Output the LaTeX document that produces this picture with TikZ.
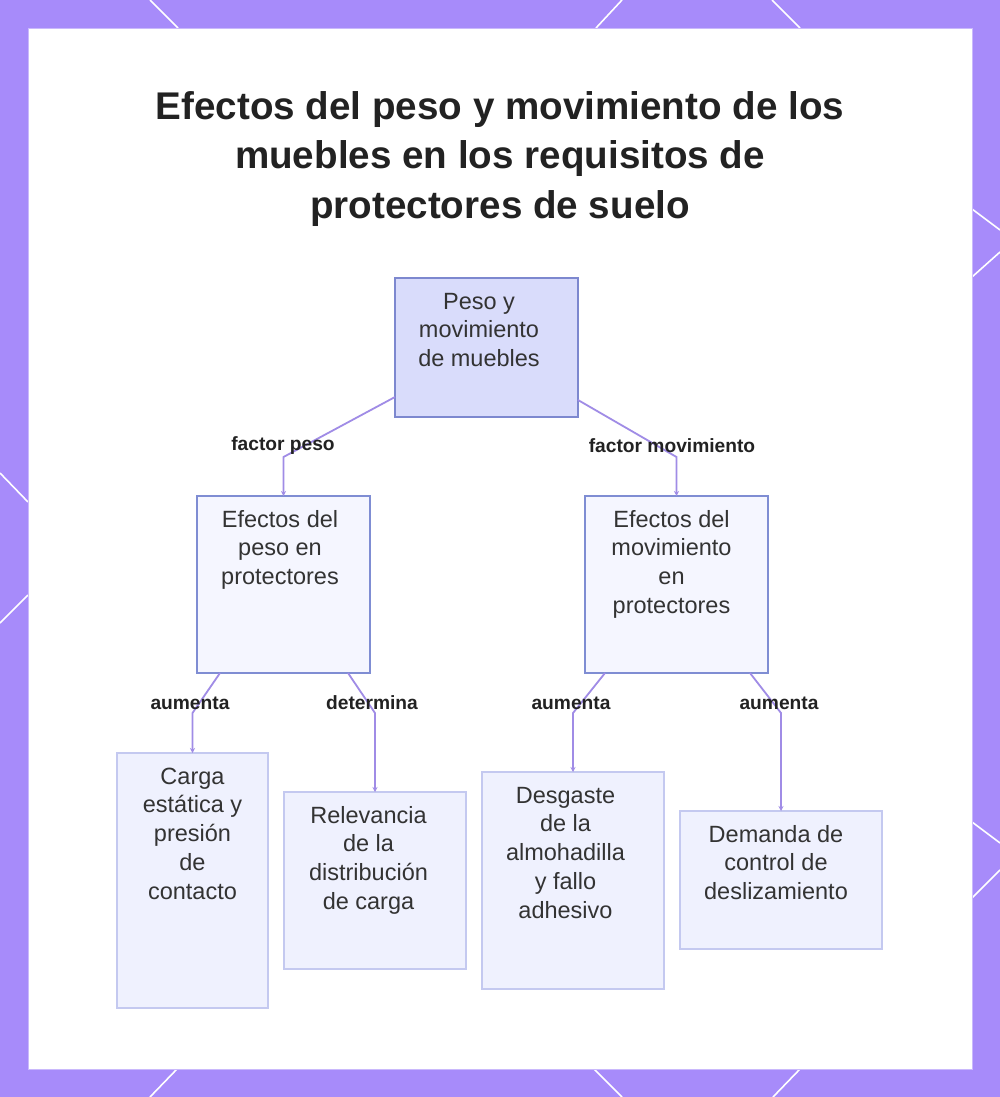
\documentclass[tikz,border=0pt]{standalone}
\usepackage{fontspec}
\setmainfont{Liberation Sans}
\usetikzlibrary{calc,arrows.meta}
\definecolor{framecol}{HTML}{A78BFA}
\definecolor{edgecol}{HTML}{A08CE6}
\definecolor{topfill}{HTML}{D9DCFB}
\definecolor{topdraw}{HTML}{7D88CF}
\definecolor{midfill}{HTML}{F5F6FF}
\definecolor{middraw}{HTML}{7F8DD3}
\definecolor{lowfill}{HTML}{EFF1FE}
\definecolor{lowdraw}{HTML}{C4C9F0}
\definecolor{txt}{HTML}{333333}
\definecolor{ttl}{HTML}{222222}
\newcommand\boxcontent[4][0]{\parbox[t][#3pt][t]{#2pt}{\centering\rightskip=#1pt plus 1fil\vspace*{11pt}\fontsize{23.5}{28.75}\selectfont\color{txt}\strut #4}}
\tikzset{
  topbox/.style={draw=topdraw, fill=topfill, line width=1.6pt, inner sep=0pt, outer sep=0pt},
  midbox/.style={draw=middraw, fill=midfill, line width=1.6pt, inner sep=0pt, outer sep=0pt},
  lowbox/.style={draw=lowdraw, fill=lowfill, line width=1.8pt, inner sep=0pt, outer sep=0pt},
  edge/.style={draw=edgecol, line width=1.8pt, -{Stealth[length=5pt,width=5pt]}},
  elabel/.style={font=\bfseries\fontsize{19.2}{22}\selectfont, text=ttl, inner sep=0pt},
  deco/.style={draw=white, line width=1.6pt}
}
\begin{document}
\begin{tikzpicture}[x=1pt,y=-1pt]
\useasboundingbox (0,0) rectangle (1000,1097);
\fill[framecol] (0,0) rectangle (1000,1097);
% decorative white lines on the frame
\draw[deco] (150,0) -- (178,28);
\draw[deco] (622,0) -- (596,28);
\draw[deco] (772,0) -- (800,28);
\draw[deco] (177,1069) -- (150,1097);
\draw[deco] (594,1069) -- (622,1097);
\draw[deco] (800,1069) -- (773,1097);
\draw[deco] (0,473) -- (28,502);
\draw[deco] (28,595) -- (0,623);
\draw[deco] (972,209) -- (1000,230);
\draw[deco] (1000,252) -- (972,277);
\draw[deco] (972,822) -- (1000,843);
\draw[deco] (1000,870) -- (972,898);
% inner panel
\fill[white] (28,28) rectangle (972,1069);
\draw[draw=framecol!60!white, line width=0.8pt] (28,28) rectangle (972,1069);

% title
\node[font=\bfseries\fontsize{38.6}{49.5}\selectfont, text=ttl, align=center, inner sep=0pt] (title) at (500,159)
  {Efectos del peso y movimiento de los\\muebles en los requisitos de\\protectores de suelo};

% nodes
\node[topbox] (top) at (486.5,347.5) {\boxcontent[15]{183}{139}{Peso y\\movimiento\\de muebles}};
\node[midbox] (peso) at (283.5,584.5) {\boxcontent[7]{173}{177}{Efectos del\\peso en\\protectores}};
\node[midbox] (mov) at (676.5,584.5) {\boxcontent[10]{183}{177}{Efectos del\\movimiento\\en\\protectores}};
\node[lowbox] (carga) at (192.5,880.5) {\boxcontent{151}{255}{Carga\\estática y\\presión\\de\\contacto}};
\node[lowbox] (relev) at (375,880.5) {\boxcontent[13]{182}{177}{Relevancia\\de la\\distribución\\de carga}};
\node[lowbox] (desg) at (573,880.5) {\boxcontent[15]{182}{217}{Desgaste\\de la\\almohadilla\\y fallo\\adhesivo}};
\node[lowbox] (dem) at (781,880) {\boxcontent[10]{202}{138}{Demanda de\\control de\\deslizamiento}};

% connectors
\draw[edge] ($(top.south west)+(0,-20)$) -- (peso.north |- 0,457) -- (peso.north);
\draw[edge] ($(top.south east)+(0,-17)$) -- (mov.north |- 0,457) -- (mov.north);
\draw[edge] ($(peso.south west)+(23,0)$) -- (carga.north |- 0,713) -- (carga.north);
\draw[edge] ($(peso.south east)+(-22,0)$) -- (relev.north |- 0,713) -- (relev.north);
\draw[edge] ($(mov.south west)+(20,0)$) -- (desg.north |- 0,713) -- (desg.north);
\draw[edge] ($(mov.south east)+(-18,0)$) -- (dem.north |- 0,713) -- (dem.north);

% labels
\node[elabel] (l1) at (283,446) {factor peso};
\node[elabel] (l2) at (672,446) {factor movimiento};
\node[elabel] (l3) at (190,703) {aumenta};
\node[elabel] (l4) at (372,703) {determina};
\node[elabel] (l5) at (571,703) {aumenta};
\node[elabel] (l6) at (779,703) {aumenta};
\end{tikzpicture}
\end{document}
